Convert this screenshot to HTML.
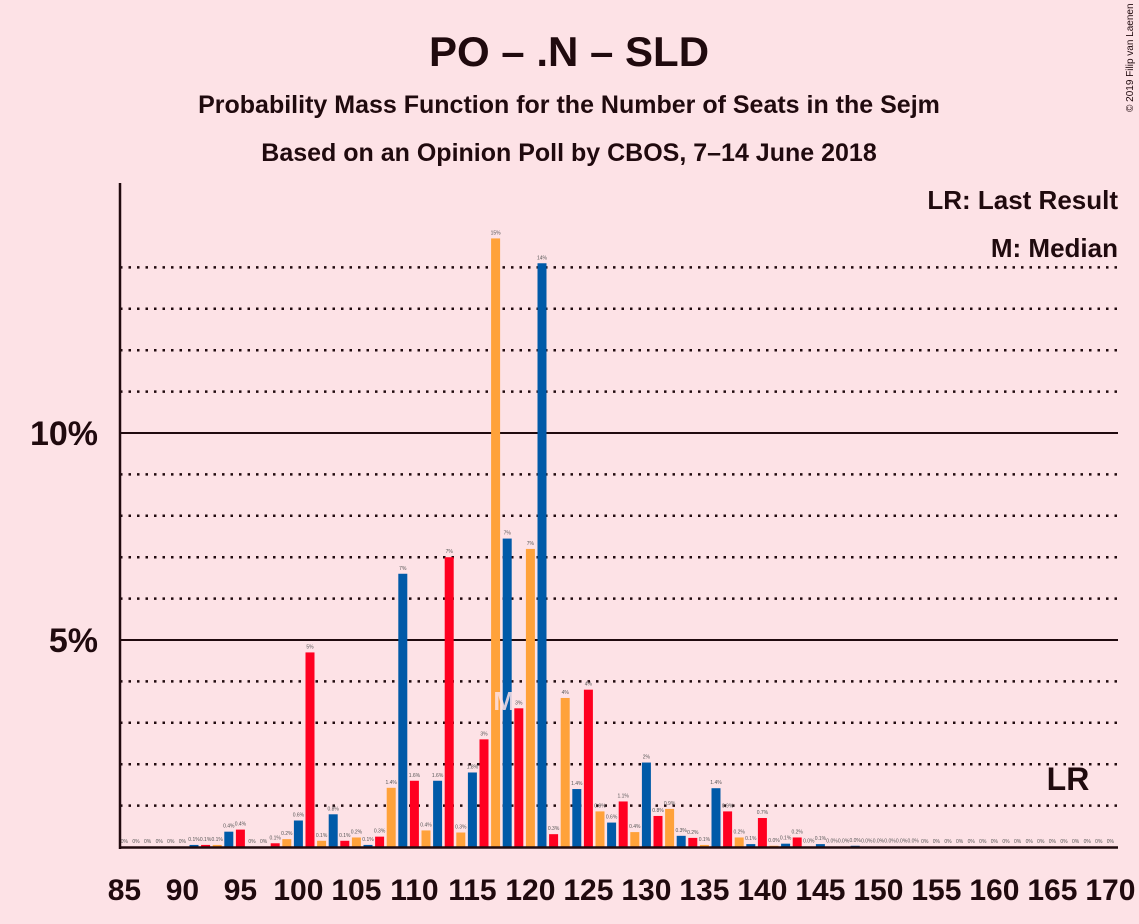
<!DOCTYPE html>
<html><head><meta charset="utf-8">
<style>
html,body{margin:0;padding:0;background:#fde2e6;}
svg{display:block;font-family:"Liberation Sans",sans-serif;}
</style></head>
<body>
<svg id="chart" width="1139" height="924" viewBox="0 0 1139 924">
<rect width="1139" height="924" fill="#fde2e6"/>
<text x="569" y="66" text-anchor="middle" font-size="42" font-weight="bold" fill="#200a0e">PO – .N – SLD</text>
<text x="569" y="113" text-anchor="middle" font-size="25" font-weight="bold" fill="#200a0e">Probability Mass Function for the Number of Seats in the Sejm</text>
<text x="569" y="161" text-anchor="middle" font-size="25" font-weight="bold" fill="#200a0e">Based on an Opinion Poll by CBOS, 7–14 June 2018</text>
<text x="1133" y="112" font-size="10" fill="#200a0e" transform="rotate(-90 1133 112)">© 2019 Filip van Laenen</text>
<g id="grid"></g>
<g id="bars"></g>
<g id="axes"></g>
<text x="1118" y="209" text-anchor="end" font-size="26" font-weight="bold" fill="#200a0e">LR: Last Result</text>
<text x="1118" y="257" text-anchor="end" font-size="26" font-weight="bold" fill="#200a0e">M: Median</text>
</svg>
<script>
const seats = [];
for (let s = 85; s <= 170; s++) seats.push(s);
const probs = [0,0,0,0,0,0,0.05,0.05,0.05,0.37,0.42,0,0,0.09,0.19,0.64,4.7,0.15,0.79,0.15,0.23,0.05,0.25,1.43,6.6,1.6,0.4,1.6,7.0,0.35,1.8,2.6,14.7,7.45,3.35,7.2,14.1,0.31,3.6,1.4,3.8,0.86,0.59,1.1,0.36,2.04,0.75,0.92,0.27,0.22,0.05,1.42,0.86,0.23,0.07,0.7,0.03,0.08,0.23,0.01,0.07,0.01,0.01,0.03,0.01,0.01,0.01,0.01,0.01,0,0,0,0,0,0,0,0,0,0,0,0,0,0,0,0,0];
const yTicks = [5,10];
const xTickLabels = [85,90,95,100,105,110,115,120,125,130,135,140,145,150,155,160,165,170];
const medianSeat = 118;
const lastResultSeat = 166;

const NS = "http://www.w3.org/2000/svg";
const x0 = 120, x1 = 1118, yBase = 847, pxPerPct = 41.4;
const xScale = s => 124.4 + (s - 85) * 11.6;
const yScale = v => yBase - v * pxPerPct;
const colors = {0:"#ffa23a",1:"#005aa8",2:"#ff0020"};
function mk(tag, attrs, parent){const e=document.createElementNS(NS,tag);for(const k in attrs)e.setAttribute(k,attrs[k]);parent.appendChild(e);return e;}
const grid=document.getElementById('grid'), bars=document.getElementById('bars'), axes=document.getElementById('axes');
for (let p=1;p<=14;p++){
  const y=yScale(p);
  const solid = yTicks.includes(p);
  const l=mk('line',{x1:x0,x2:x1,y1:y,y2:y,stroke:"#200a0e","stroke-width":solid?2:2.5,"stroke-dasharray":solid?"none":"2.5,6"},grid);
  
  
}
yTicks.forEach(t=>{
  const tx=mk('text',{x:98,y:yScale(t)+12,"text-anchor":"end","font-size":34,"font-weight":"bold",fill:"#200a0e"},axes);
  tx.textContent=t+"%";
  
  
});
function fmt(v){ if(v<0.005) return "0%"; if(v>=1.95) return Math.round(v)+"%"; return v.toFixed(1)+"%"; }
seats.forEach((s,i)=>{
  const v=probs[i];
  const cx=xScale(s);
  const h=v*pxPerPct;
  const r=mk('rect',{x:cx-4.5,y:yBase-h,width:9,height:h,fill:colors[s%3]},bars);
  
  
  const t=mk('text',{x:cx,y:yBase-h-4,"text-anchor":"middle","font-size":5,fill:"#555"},bars);
  t.textContent=fmt(v);
  
  
});
const m=mk('text',{x:xScale(medianSeat)-3,y:yScale(3.4)+4,"text-anchor":"middle","font-size":26,"font-weight":"bold",fill:"#fde2e6","fill-opacity":0.85},bars);
m.textContent="M";


const lr=mk('text',{x:xScale(lastResultSeat)+4,y:790,"text-anchor":"middle","font-size":32,"font-weight":"bold",fill:"#200a0e"},axes);
lr.textContent="LR";


const ya=mk('line',{x1:x0,x2:x0,y1:183,y2:849,stroke:"#200a0e","stroke-width":2.5},axes);


const xa=mk('line',{x1:x0-1,x2:x1,y1:yBase+0.5,y2:yBase+0.5,stroke:"#200a0e","stroke-width":2.5},axes);


xTickLabels.forEach(s=>{
  const t=mk('text',{x:xScale(s),y:900,"text-anchor":"middle","font-size":30,"font-weight":"bold",fill:"#200a0e"},axes);
  t.textContent=s;
  
  
});
</script>
</body></html>
